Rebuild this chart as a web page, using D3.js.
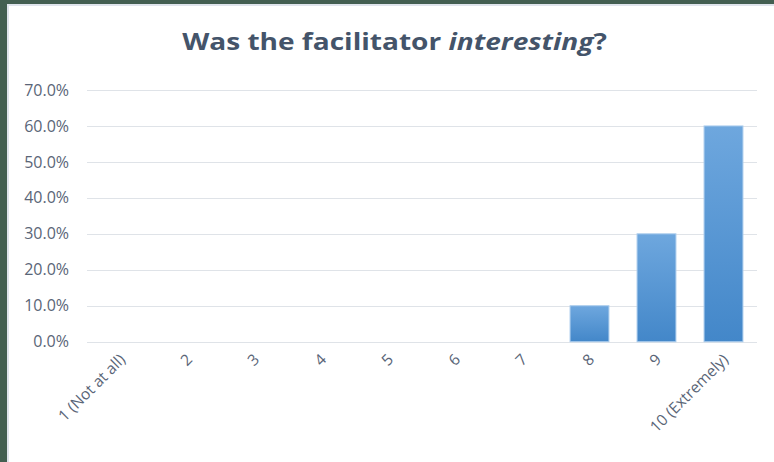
<!DOCTYPE html>
<html>
<head>
<meta charset="utf-8">
<script src="https://cdn.jsdelivr.net/npm/d3@7"></script>
<style>
  html, body { margin: 0; padding: 0; background: #435f51; }
  svg { display: block; }
</style>
</head>
<body>
<svg width="774" height="462"></svg>
<script>
var categories = ["1 (Not at all)", "2", "3", "4", "5", "6", "7", "8", "9", "10 (Extremely)"];
var values = [0, 0, 0, 0, 0, 0, 0, 0.10, 0.30, 0.60];
var yTicks = [0, 0.1, 0.2, 0.3, 0.4, 0.5, 0.6, 0.7];

var svg = d3.select("svg"),
    margin = {top: 90, right: 17, bottom: 120, left: 87},
    width = 774 - margin.left - margin.right,
    height = 341.7 - margin.top;

// frame: dark strip on top/left, thin light line, white panel
svg.append("rect").attr("x", 0).attr("y", 0).attr("width", 774).attr("height", 462).attr("fill", "#435f51");
svg.append("rect").attr("x", 7).attr("y", 4).attr("width", 767).attr("height", 458).attr("fill", "#dfe4ec");
svg.append("rect").attr("x", 9).attr("y", 6).attr("width", 765).attr("height", 456).attr("fill", "#ffffff");

var defs = svg.append("defs");
var grad = defs.append("linearGradient")
    .attr("id", "barGrad")
    .attr("x1", 0).attr("y1", 0).attr("x2", 0).attr("y2", 1);
grad.append("stop").attr("offset", "0%").attr("stop-color", "#6ea7de");
grad.append("stop").attr("offset", "100%").attr("stop-color", "#4387c9");

var title = svg.append("text")
    .attr("x", 0)
    .attr("y", 50)
    .attr("text-anchor", "middle")
    .attr("fill", "#44546a")
    .style("font", "bold 24px 'Open Sans', Lato, sans-serif")
    .call(function(t) {
      t.append("tspan").text("Was the facilitator ");
      t.append("tspan").style("font-style", "italic").text("interesting");
      t.append("tspan").text("?");
    });
// stretch to the width of the original title
var tw = title.node().getComputedTextLength();
title.attr("transform", "translate(394.5,0) scale(" + (425 / tw) + ",1)");

var g = svg.append("g").attr("transform", "translate(" + margin.left + "," + margin.top + ")");

var x = d3.scaleBand().domain(categories).range([0, width]).paddingInner(0.42).paddingOuter(0.21),
    y = d3.scaleLinear().domain([0, 0.7]).range([height, 0]);

g.append("g")
    .attr("class", "grid")
    .selectAll("line")
    .data(yTicks)
    .enter().append("line")
      .attr("x1", 0)
      .attr("x2", width)
      .attr("y1", function(d) { return Math.round(y(d)) + 0.5; })
      .attr("y2", function(d) { return Math.round(y(d)) + 0.5; })
      .attr("stroke", "#dfe3e8")
      .attr("stroke-width", 1);

var yAxis = g.append("g")
    .call(d3.axisLeft(y).tickValues(yTicks).tickFormat(d3.format(".1%")).tickSize(0).tickPadding(18));
yAxis.select(".domain").remove();
yAxis.selectAll("text")
    .attr("fill", "#5a6577")
    .style("font", "16px 'Open Sans', Lato, sans-serif");

g.selectAll(".bar")
    .data(values)
    .enter().append("rect")
      .attr("class", "bar")
      .attr("x", function(d, i) { return x(categories[i]); })
      .attr("y", function(d) { return y(d); })
      .attr("width", x.bandwidth())
      .attr("height", function(d) { return height - y(d); })
      .attr("fill", "url(#barGrad)")
      .attr("stroke", "#a9cbec")
      .attr("stroke-width", function(d) { return d > 0 ? 1 : 0; });

var xAxis = g.append("g")
    .attr("transform", "translate(0," + height + ")")
    .call(d3.axisBottom(x).tickSize(0).tickPadding(0));
xAxis.select(".domain").remove();
xAxis.selectAll("text")
    .attr("fill", "#5a6577")
    .style("font", "15.5px 'Open Sans', Lato, sans-serif")
    .attr("text-anchor", "end")
    .attr("dy", "0.35em")
    .attr("transform", "translate(2,15) rotate(-45)");
</script>
</body>
</html>
